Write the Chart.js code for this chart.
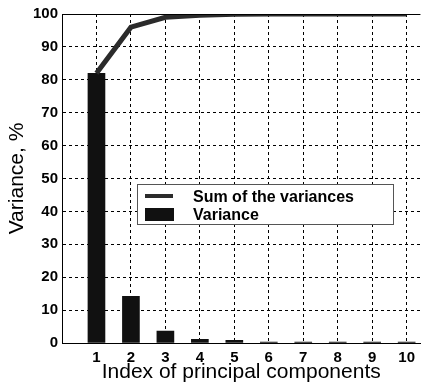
<!DOCTYPE html>
<html>
<head>
<meta charset="utf-8">
<script src="https://cdn.jsdelivr.net/npm/chart.js@4"></script>
<style>
    body { margin: 0; background: #fff; overflow: hidden; }
    canvas { display: block; }
</style>
</head>
<body>
<canvas id="chartPCA" width="421" height="389"></canvas>
<script>
const componentes = [1, 2, 3, 4, 5, 6, 7, 8, 9, 10];
const varianza = [82, 14.2, 3.6, 1.1, 0.8, 0.3, 0.3, 0.3, 0.3, 0.3];
const sumaVarianza = [82, 96, 99, 99.6, 99.9, 100, 100, 100, 100, 100];
const ticksY = [0, 10, 20, 30, 40, 50, 60, 70, 80, 90, 100];

// leyenda dentro del area del grafico
const leyendaPlugin = {
    id: 'leyendaDentro',
    afterDraw(chart) {
        const ctx = chart.ctx;
        const sets = chart.data.datasets;
        ctx.save();
        // borde superior solido
        ctx.strokeStyle = '#000';
        ctx.lineWidth = 1;
        ctx.beginPath();
        ctx.moveTo(chart.chartArea.left, chart.chartArea.top + 0.5);
        ctx.lineTo(chart.chartArea.right, chart.chartArea.top + 0.5);
        ctx.stroke();

        ctx.fillStyle = '#fff';
        ctx.fillRect(137, 184, 256, 40);
        ctx.strokeStyle = '#555';
        ctx.strokeRect(137.5, 184.5, 256, 40);

        ctx.fillStyle = sets[0].borderColor;
        ctx.fillRect(145, 194, 28, 4);
        ctx.fillStyle = sets[1].backgroundColor;
        ctx.fillRect(145, 208, 29, 13);

        ctx.fillStyle = '#000';
        ctx.font = 'bold 16px "Liberation Sans", Arial, sans-serif';
        ctx.textBaseline = 'alphabetic';
        ctx.fillText(sets[0].label, 193, 202);
        ctx.fillText(sets[1].label, 193, 220);
        ctx.restore();
    }
};

function crearGrafica() {
    const ctx = document.getElementById('chartPCA').getContext('2d');

    const puntosSuma = componentes.map((c, i) => ({ x: c, y: sumaVarianza[i] }));
    const puntosVar = componentes.map((c, i) => ({ x: c, y: varianza[i] }));

    new Chart(ctx, {
        type: 'bar',
        data: {
            datasets: [{
                type: 'line',
                label: 'Sum of the variances',
                data: puntosSuma,
                borderColor: '#2b2b2b',
                borderWidth: 5,
                pointRadius: 0,
                tension: 0,
                order: 0
            }, {
                type: 'bar',
                label: 'Variance',
                data: puntosVar,
                backgroundColor: '#111111',
                barThickness: 17,
                order: 1
            }]
        },
        options: {
            responsive: false,
            animation: false,
            layout: { padding: { top: 14, right: -8, left: 0, bottom: 0 } },
            plugins: {
                legend: { display: false },
                tooltip: { enabled: false }
            },
            scales: {
                x: {
                    type: 'linear',
                    min: 0,
                    max: 10.4,
                    offset: false,
                    afterBuildTicks: scale => {
                        scale.ticks = componentes.map(v => ({ value: v }));
                    },
                    afterFit: scale => { scale.height = 46; },
                    ticks: {
                        color: '#000',
                        padding: 6,
                        maxRotation: 0,
                        font: { family: '"Liberation Sans", Arial, sans-serif', size: 15, weight: 'bold' }
                    },
                    grid: {
                        color: '#000',
                        lineWidth: 1,
                        offset: false,
                        drawTicks: false
                    },
                    border: { color: '#000', dash: [3, 3], display: true },
                    title: {
                        display: true,
                        text: 'Index of principal components',
                        color: '#000',
                        padding: { top: 0, bottom: 4 },
                        font: { family: '"Liberation Sans", Arial, sans-serif', size: 21 }
                    }
                },
                y: {
                    min: 0,
                    max: 100,
                    afterBuildTicks: scale => {
                        scale.ticks = ticksY.map(v => ({ value: v }));
                    },
                    afterFit: scale => { scale.width = 62; },
                    ticks: {
                        color: '#000',
                        padding: 4,
                        font: { family: '"Liberation Sans", Arial, sans-serif', size: 15, weight: 'bold' }
                    },
                    grid: {
                        color: '#000',
                        lineWidth: 1,
                        drawTicks: false
                    },
                    border: { color: '#000', dash: [3, 3], display: true },
                    title: {
                        display: true,
                        text: 'Variance, %',
                        color: '#000',
                        padding: { top: 5, bottom: 0 },
                        font: { family: '"Liberation Sans", Arial, sans-serif', size: 21 }
                    }
                }
            }
        },
        plugins: [leyendaPlugin]
    });
}

crearGrafica();
</script>
</body>
</html>
